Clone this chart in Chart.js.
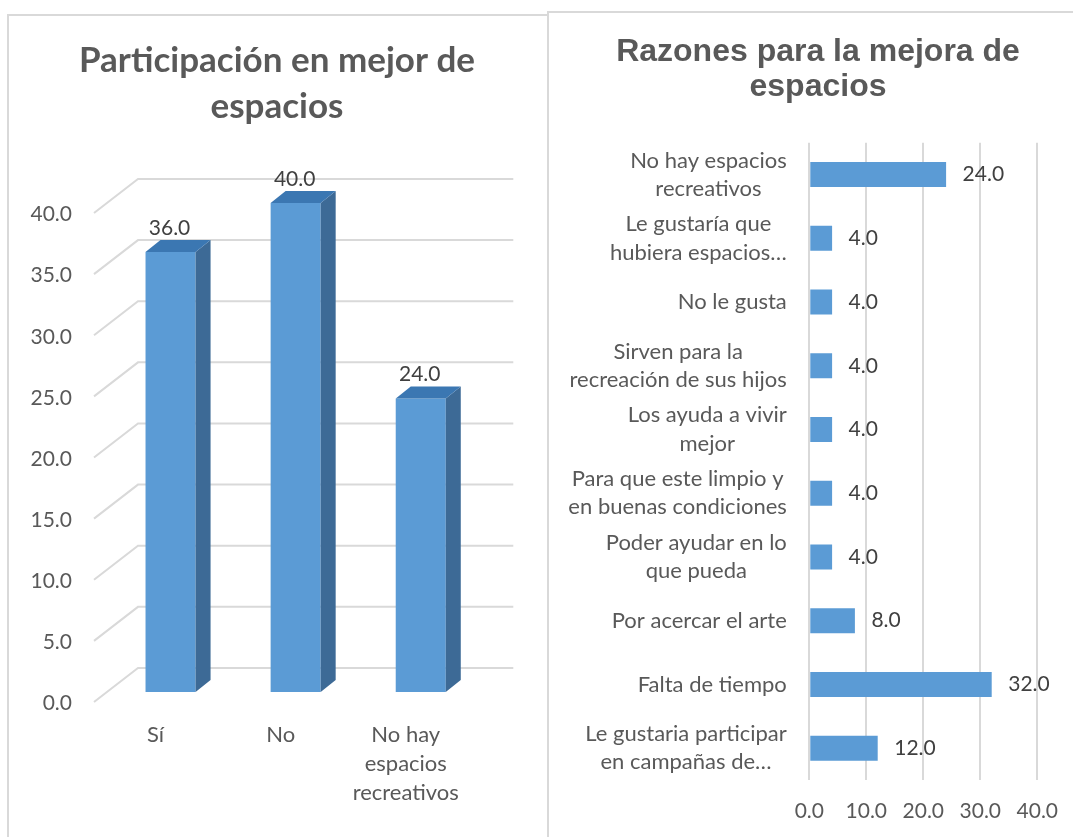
<!DOCTYPE html>
<html lang="es">
<head>
<meta charset="utf-8">
<title>Participación y razones para la mejora de espacios</title>
<script src="https://cdn.jsdelivr.net/npm/chart.js@4.4.1/dist/chart.umd.min.js"></script>
<style>
  html, body { margin: 0; padding: 0; background: #fff; overflow: hidden; width: 1073px; height: 837px; }
  .panel { position: absolute; border: 2px solid #d9d9d9; box-sizing: border-box; background: #fff; }
  #panelLeft  { left: 7px;   top: 14px; width: 542px; height: 900px; }
  #panelRight { left: 547px; top: 11px; width: 600px; height: 900px; }
  canvas { position: absolute; }
  #chartPart   { left: 9px;   top: 16px; }
  #chartRazon  { left: 549px; top: 13px; }
</style>
</head>
<body>
<div class="panel" id="panelLeft"></div>
<div class="panel" id="panelRight"></div>
<canvas id="chartPart" width="536" height="796"></canvas>
<canvas id="chartRazon" width="532" height="825"></canvas>

<script>
// ─── Données ──────────────────────────────────────────────────────────────
const partTitle  = ['Participación en mejor de', 'espacios'];
const partCats   = ['Sí', 'No', ['No hay', 'espacios', 'recreativos']];
const partValues = [36.0, 40.0, 24.0];
const partMin = 0, partMax = 40, partStep = 5;

const razonTitle = ['Razones para la mejora de', 'espacios'];
const razonCats  = [
  ['No hay espacios', 'recreativos'],
  ['Le gustaría que', 'hubiera espacios…'],
  ['No le gusta'],
  ['Sirven para la', 'recreación de sus hijos'],
  ['Los ayuda a vivir', 'mejor'],
  ['Para que este limpio y', 'en buenas condiciones'],
  ['Poder ayudar en lo', 'que pueda'],
  ['Por acercar el arte'],
  ['Falta de tiempo'],
  ['Le gustaria participar', 'en campañas de…'],
];
const razonValues = [24.0, 4.0, 4.0, 4.0, 4.0, 4.0, 4.0, 8.0, 32.0, 12.0];
const razonMin = 0, razonMax = 40, razonStep = 10;

// ─── Style ────────────────────────────────────────────────────────────────
const BLUE       = '#5b9bd5';
const BLUE_SIDE  = '#3d6a96';
const BLUE_TOP   = '#3b77b2';
const GRID       = '#d9d9d9';
const AXIS_TXT   = '#595959';
const VALUE_TXT  = '#404040';
const FONT       = 'Lato';

// décalages de la pseudo-3D (px)
const BAR_DEPTH  = { dx: 15,  dy: 12 };
const FLOOR      = { dx: -14, dy: 10 };
const WALL       = { dx: 30,  dy: -24 };

Chart.defaults.font.family = FONT;
Chart.defaults.color = AXIS_TXT;

const fmt1 = (v) => Number(v).toFixed(1);

// ─── Plugins ──────────────────────────────────────────────────────────────
const grid3d = {
  id: 'grid3d',
  beforeDatasetsDraw(chart) {
    const { ctx, chartArea: a, scales: { y } } = chart;
    ctx.save();
    ctx.strokeStyle = GRID;
    ctx.lineWidth = 2;
    y.ticks.forEach((t) => {
      const py = y.getPixelForValue(t.value);
      ctx.beginPath();
      ctx.moveTo(a.left + FLOOR.dx, py + FLOOR.dy);
      ctx.lineTo(a.left + WALL.dx, py + WALL.dy);
      ctx.lineTo(a.right + WALL.dx, py + WALL.dy);
      ctx.stroke();
    });
    ctx.restore();
  },
};

const bars3d = {
  id: 'bars3d',
  afterDatasetsDraw(chart) {
    const { ctx } = chart;
    const meta = chart.getDatasetMeta(0);
    ctx.save();
    meta.data.forEach((bar, i) => {
      const { x, y, base, width } = bar.getProps(['x', 'y', 'base', 'width'], true);
      const l = x - width / 2, r = x + width / 2;
      // face latérale
      ctx.fillStyle = BLUE_SIDE;
      ctx.beginPath();
      ctx.moveTo(r, y);
      ctx.lineTo(r + BAR_DEPTH.dx, y - BAR_DEPTH.dy);
      ctx.lineTo(r + BAR_DEPTH.dx, base - BAR_DEPTH.dy);
      ctx.lineTo(r, base);
      ctx.closePath();
      ctx.fill();
      // dessus
      ctx.fillStyle = BLUE_TOP;
      ctx.beginPath();
      ctx.moveTo(l, y);
      ctx.lineTo(l + BAR_DEPTH.dx, y - BAR_DEPTH.dy);
      ctx.lineTo(r + BAR_DEPTH.dx, y - BAR_DEPTH.dy);
      ctx.lineTo(r, y);
      ctx.closePath();
      ctx.fill();
      // étiquette
      ctx.fillStyle = VALUE_TXT;
      ctx.font = `21px ${FONT}`;
      ctx.textAlign = 'center';
      ctx.textBaseline = 'middle';
      ctx.fillText(fmt1(partValues[i]), x - 1, y - 24);
    });
    ctx.restore();
  },
};

const hbarLabels = {
  id: 'hbarLabels',
  afterDraw(chart) {
    const { ctx, scales: { y } } = chart;
    const meta = chart.getDatasetMeta(0);
    ctx.save();
    ctx.textBaseline = 'middle';
    // valeurs
    ctx.font = `21px ${FONT}`;
    ctx.fillStyle = VALUE_TXT;
    ctx.textAlign = 'left';
    meta.data.forEach((bar, i) => {
      ctx.fillText(fmt1(razonValues[i]), bar.x + 16.5, bar.y);
    });
    // catégories : bloc aligné à droite, lignes centrées dans le bloc
    ctx.font = `22px ${FONT}`;
    ctx.fillStyle = AXIS_TXT;
    ctx.textAlign = 'center';
    const rightEdge = y.right - 22.5;
    razonCats.forEach((lines, i) => {
      const py = y.getPixelForTick(i);
      const w = Math.max(...lines.map((s) => ctx.measureText(s).width));
      const cx = rightEdge - w / 2;
      lines.forEach((s, j) => {
        ctx.fillText(s, cx, py + (j - (lines.length - 1) / 2) * 28.3);
      });
    });
    ctx.restore();
  },
};

// ─── Graphique gauche : colonnes 3D ─────────────────────────────────────
new Chart(document.getElementById('chartPart'), {
  type: 'bar',
  data: {
    labels: partCats,
    datasets: [{
      data: partValues,
      backgroundColor: BLUE,
      borderWidth: 0,
      barPercentage: 0.4,
      categoryPercentage: 1.0,
    }],
  },
  options: {
    responsive: false,
    animation: false,
    layout: { padding: 0 },
    plugins: {
      legend: { display: false },
      tooltip: { enabled: false },
      title: {
        display: true,
        text: partTitle,
        color: AXIS_TXT,
        font: { family: FONT, size: 35, weight: 'bold', lineHeight: 1.314 },
        padding: { top: 21.5, bottom: 73.5 },
      },
    },
    scales: {
      x: {
        grid: { display: false, drawTicks: false },
        border: { display: false },
        ticks: {
          color: AXIS_TXT, font: { size: 22, lineHeight: 1.318 },
          padding: 28.5, labelOffset: -15, maxRotation: 0, autoSkip: false,
        },
        afterFit: (s) => { s.height = 120; },
      },
      y: {
        min: partMin, max: partMax,
        grid: { display: false, drawTicks: false },
        border: { display: false },
        ticks: {
          stepSize: partStep, color: AXIS_TXT, font: { size: 21 },
          padding: 36, labelOffset: 11.5, callback: (v) => fmt1(v),
        },
        afterFit: (s) => { s.width = 99; },
      },
      // axe vide à droite : réserve la profondeur 3D et recentre le titre
      yDepth: {
        position: 'right',
        display: true,
        grid: { display: false, drawTicks: false },
        border: { display: false },
        ticks: { display: false },
        afterFit: (s) => { s.width = 61.7; },
      },
    },
  },
  plugins: [grid3d, bars3d],
});

// ─── Graphique droit : barres horizontales ──────────────────────────────
new Chart(document.getElementById('chartRazon'), {
  type: 'bar',
  data: {
    labels: razonCats,
    datasets: [{
      data: razonValues,
      backgroundColor: BLUE,
      borderWidth: 0,
      barPercentage: 0.392,
      categoryPercentage: 1.0,
    }],
  },
  options: {
    indexAxis: 'y',
    responsive: false,
    animation: false,
    layout: { padding: { left: 49.7, right: 43.7, top: 0, bottom: 0 } },
    plugins: {
      legend: { display: false },
      tooltip: { enabled: false },
      title: {
        display: true,
        text: razonTitle,
        color: AXIS_TXT,
        font: { family: 'Liberation Sans', size: 32, weight: 'bold', lineHeight: 1.094 },
        padding: { top: 21.5, bottom: 38.2 },
      },
    },
    scales: {
      x: {
        min: razonMin, max: razonMax,
        grid: { color: GRID, lineWidth: 2, drawTicks: false },
        border: { display: false },
        ticks: {
          stepSize: razonStep, color: AXIS_TXT, font: { size: 21 },
          padding: 19.1, callback: (v) => fmt1(v),
        },
        afterFit: (s) => { s.height = 58; },
      },
      y: {
        grid: { display: false, drawTicks: false },
        border: { display: false },
        ticks: { display: false },
        afterFit: (s) => { s.width = 210.6; },
      },
    },
  },
  plugins: [hbarLabels],
});
</script>
</body>
</html>
